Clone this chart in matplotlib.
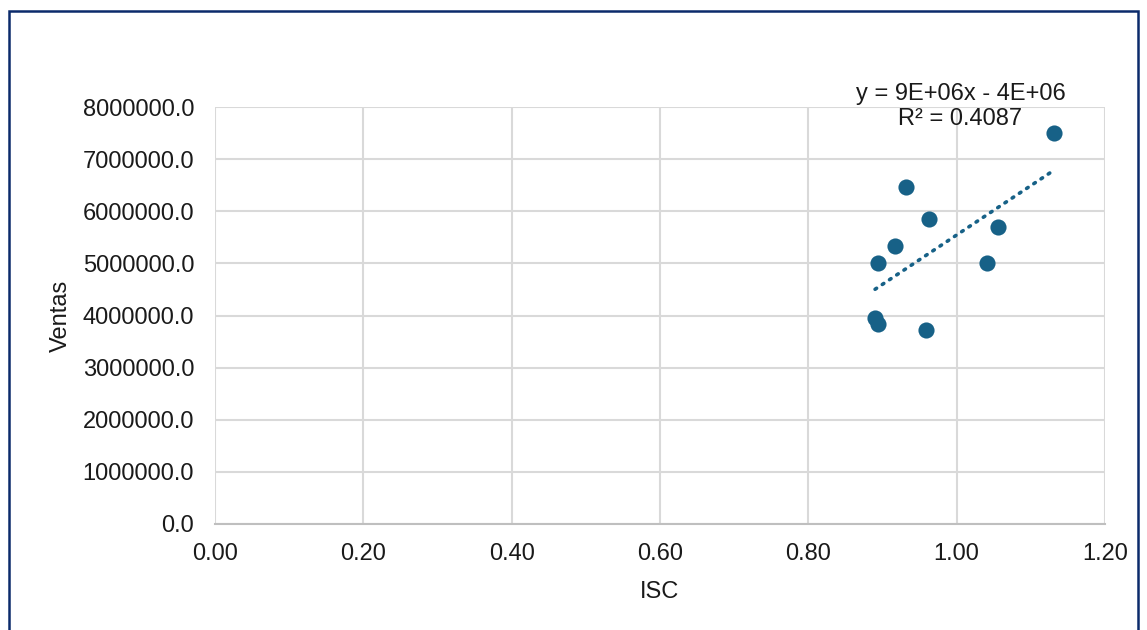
"""
Scatter of Ventas vs ISC with a linear trendline, Excel style.
"""

import numpy as np
import matplotlib.pyplot as plt
from matplotlib.patches import Rectangle

ISC = [1.131, 0.932, 0.963, 0.917, 0.894, 1.041, 1.056, 0.890, 0.894, 0.959]
VENTAS = [7500000, 6470000, 5850000, 5340000, 5010000, 5010000, 5700000,
          3950000, 3840000, 3720000]
X_TICKS = [0.0, 0.2, 0.4, 0.6, 0.8, 1.0, 1.2]
Y_TICKS = [0, 1000000, 2000000, 3000000, 4000000, 5000000, 6000000,
           7000000, 8000000]
EQUATION = 'y = 9E+06x - 4E+06\nR² = 0.4087'

W, H = 1147, 630
POINT_COLOR = '#176187'
FS = 17

plt.rcParams['font.family'] = ['Liberation Sans', 'DejaVu Sans']

fig = plt.figure(figsize=(W / 100, H / 100), dpi=100)
ax = fig.add_axes([215 / W, 1 - 524 / H, 890 / W, 417 / H])

# chart-area border (bottom runs off the picture)
fig.patches.append(Rectangle((9 / W, -0.05), (1138 - 9) / W, 1.05 - 11.5 / H,
                             transform=fig.transFigure, fill=False,
                             edgecolor='#0b2a6b', linewidth=1.8))

ax.scatter(ISC, VENTAS, s=135, color=POINT_COLOR, zorder=3, linewidths=0)

# linear trendline
slope, intercept = np.polyfit(ISC, VENTAS, 1)
xs = np.array([min(ISC), max(ISC)])
ax.plot(xs, slope * xs + intercept, color=POINT_COLOR, linestyle=(0, (0.5, 1.9)),
        linewidth=2.6, dash_capstyle='round', zorder=2)

ax.text(1.005, 7560000, EQUATION, ha='center', va='bottom', fontsize=FS,
        linespacing=1.15, color='#1a1a1a')

ax.set_xlim(0, 1.2)
ax.set_ylim(0, 8000000)
ax.set_xticks(X_TICKS)
ax.set_yticks(Y_TICKS)
ax.set_xticklabels([f'{v:.2f}' for v in X_TICKS])
ax.set_yticklabels([f'{v:.1f}' for v in Y_TICKS])
ax.tick_params(axis='y', length=0, labelsize=FS, colors='#1a1a1a', pad=15)
ax.tick_params(axis='x', length=0, labelsize=FS, colors='#1a1a1a', pad=14)

ax.grid(True, color='#d9d9d9', linewidth=1.5)
ax.set_axisbelow(True)
for side in ['top', 'right', 'left']:
    ax.spines[side].set_visible(False)
ax.spines['bottom'].set_color('#bfbfbf')
ax.spines['bottom'].set_linewidth(1.5)

ax.set_xlabel('ISC', fontsize=FS, color='#1a1a1a', labelpad=11)
ax.set_ylabel('Ventas', fontsize=FS, color='#1a1a1a', labelpad=8)

fig.savefig('out.png', dpi=100)
